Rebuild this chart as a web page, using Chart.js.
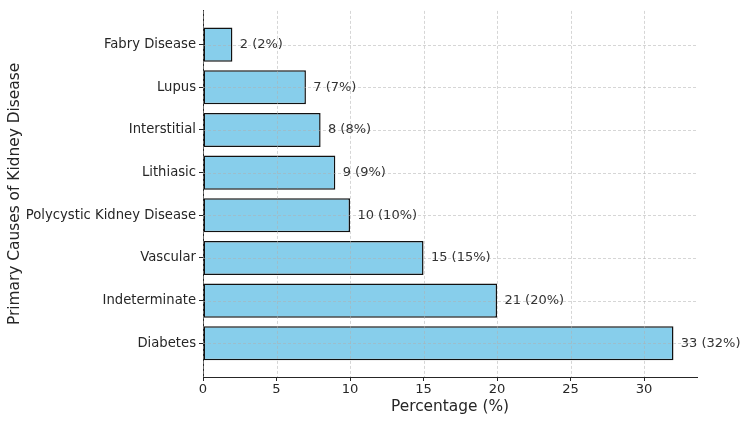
<!DOCTYPE html>
<html>
<head>
<meta charset="utf-8">
<script src="https://cdn.jsdelivr.net/npm/chart.js@4/dist/chart.umd.min.js"></script>
<style>
  html, body { margin: 0; padding: 0; background: #fff; overflow: hidden; }
</style>
</head>
<body>
<canvas id="myChart" width="750" height="421"></canvas>
<script>
// categories bottom -> top (matplotlib barh order)
const categories = ['Diabetes', 'Indeterminate', 'Vascular', 'Polycystic Kidney Disease',
                    'Lithiasic', 'Interstitial', 'Lupus', 'Fabry Disease'];
const percentages = [32, 20, 15, 10, 9, 8, 7, 2];
const counts = [33, 21, 15, 10, 9, 8, 7, 2];
const xTicks = [0, 5, 10, 15, 20, 25, 30];

const FONT = 'DejaVu Sans';
const INK = '#262626';

// dashed grid drawn on top of the bars, like matplotlib does here
const gridOnTop = {
    id: 'gridOnTop',
    afterDatasetsDraw(chart) {
        const c = chart.ctx, a = chart.chartArea;
        const xs = chart.scales.x, ys = chart.scales.y;
        c.save();
        c.strokeStyle = 'rgba(176,176,176,0.65)';
        c.lineWidth = 0.8;
        c.setLineDash([3, 2]);
        xTicks.forEach(v => {
            const px = Math.round(xs.getPixelForValue(v)) + 0.5;
            c.beginPath(); c.moveTo(px, a.top); c.lineTo(px, a.bottom); c.stroke();
        });
        categories.forEach((cat, i) => {
            const py = Math.round(ys.getPixelForValue(i)) + 0.5;
            c.beginPath(); c.moveTo(a.left, py); c.lineTo(a.right, py); c.stroke();
        });
        c.restore();
    }
};

// "33 (32%)" labels at bar ends
const barLabels = {
    id: 'barLabels',
    afterDatasetsDraw(chart) {
        const c = chart.ctx;
        const xs = chart.scales.x, ys = chart.scales.y;
        c.save();
        c.font = '13px "' + FONT + '"';
        c.fillStyle = '#333333';
        c.textAlign = 'left';
        c.textBaseline = 'middle';
        percentages.forEach((p, i) => {
            c.fillText(counts[i] + ' (' + p + '%)', xs.getPixelForValue(p + 0.5), ys.getPixelForValue(i));
        });
        c.restore();
    }
};

const ctx = document.getElementById('myChart').getContext('2d');
const myChart = new Chart(ctx, {
    type: 'bar',
    data: {
        datasets: [{
            data: percentages.map((p, i) => ({ x: p, y: i })),
            backgroundColor: '#87CEEB',
            borderColor: '#111111',
            borderWidth: 1.5,
            borderSkipped: false,
            barPercentage: 0.8,
            categoryPercentage: 1
        }]
    },
    options: {
        indexAxis: 'y',
        responsive: false,
        animation: false,
        devicePixelRatio: 1,
        layout: { padding: { left: 0, top: 8, right: 53, bottom: 0 } },
        plugins: { legend: { display: false }, tooltip: { enabled: false } },
        scales: {
            x: {
                type: 'linear',
                min: 0,
                max: 33.6,
                afterFit: s => { s.height = 44; },
                afterBuildTicks: s => { s.ticks = xTicks.map(v => ({ value: v })); },
                border: { display: true, color: INK, width: 1 },
                grid: { drawOnChartArea: false, drawTicks: true, tickLength: 4, tickColor: INK },
                ticks: { color: INK, font: { family: FONT, size: 13.1 }, padding: 1, maxRotation: 0 },
                title: { display: true, text: 'Percentage (%)', color: INK,
                         font: { family: FONT, size: 15.4 }, padding: { top: 4, bottom: 5 } }
            },
            y: {
                type: 'linear',
                offset: false,
                min: -0.79,
                max: 7.79,
                afterFit: s => { s.width = 203; },
                afterBuildTicks: s => { s.ticks = categories.map((c, i) => ({ value: i })); },
                border: { display: true, color: INK, width: 1 },
                grid: { offset: false, drawOnChartArea: false, drawTicks: true, tickLength: 4, tickColor: INK },
                ticks: { color: INK, font: { family: FONT, size: 13.2 }, padding: 3,
                         callback: v => categories[v] },
                title: { display: true, text: 'Primary Causes of Kidney Disease', color: INK,
                         font: { family: FONT, size: 15.4 }, padding: { top: 6, bottom: 0 } }
            }
        }
    },
    plugins: [gridOnTop, barLabels]
});
</script>
</body>
</html>
